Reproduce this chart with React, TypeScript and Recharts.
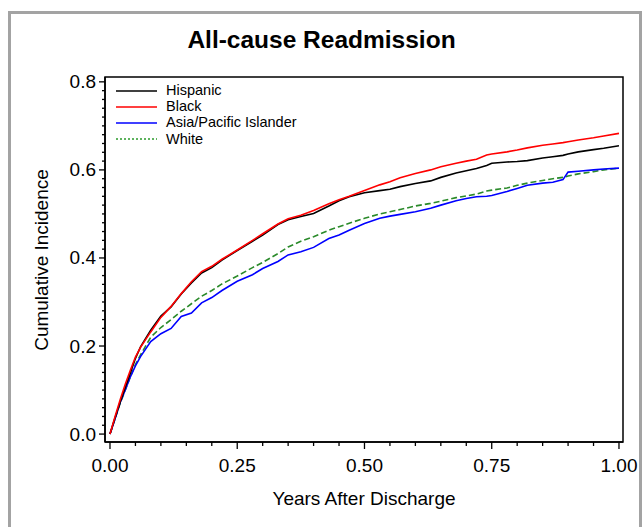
import React from 'react';
import { LineChart, Line, XAxis, YAxis, ReferenceArea } from 'recharts';

const times = [0, 0.01, 0.02, 0.03, 0.04, 0.05, 0.06, 0.08, 0.10, 0.12, 0.14, 0.16, 0.18, 0.20, 0.22, 0.25, 0.28, 0.30, 0.33, 0.35, 0.375, 0.40, 0.43, 0.45, 0.47, 0.50, 0.53, 0.55, 0.57, 0.60, 0.63, 0.65, 0.68, 0.70, 0.72, 0.74, 0.75, 0.78, 0.80, 0.82, 0.85, 0.87, 0.89, 0.90, 0.92, 0.95, 0.97, 1.00];

const hispanic = [0, 0.037, 0.072, 0.106, 0.138, 0.172, 0.198, 0.236, 0.268, 0.289, 0.318, 0.343, 0.366, 0.378, 0.395, 0.417, 0.438, 0.452, 0.476, 0.487, 0.494, 0.501, 0.518, 0.53, 0.539, 0.548, 0.553, 0.556, 0.562, 0.569, 0.575, 0.583, 0.593, 0.598, 0.603, 0.61, 0.615, 0.618, 0.619, 0.621, 0.627, 0.63, 0.633, 0.636, 0.641, 0.646, 0.649, 0.655];

const black = [0, 0.04, 0.078, 0.113, 0.145, 0.175, 0.197, 0.232, 0.265, 0.29, 0.319, 0.346, 0.369, 0.381, 0.397, 0.418, 0.44, 0.455, 0.477, 0.489, 0.497, 0.508, 0.523, 0.532, 0.54, 0.553, 0.566, 0.573, 0.582, 0.592, 0.6, 0.607, 0.615, 0.62, 0.624, 0.634, 0.636, 0.641, 0.645, 0.65, 0.656, 0.659, 0.662, 0.664, 0.668, 0.673, 0.677, 0.683];

const asian = [0, 0.035, 0.072, 0.1, 0.13, 0.155, 0.176, 0.21, 0.228, 0.24, 0.267, 0.275, 0.298, 0.31, 0.326, 0.347, 0.362, 0.376, 0.392, 0.407, 0.414, 0.424, 0.444, 0.452, 0.463, 0.478, 0.49, 0.495, 0.499, 0.505, 0.513, 0.52, 0.53, 0.535, 0.539, 0.54, 0.542, 0.551, 0.558, 0.565, 0.57, 0.572, 0.578, 0.595, 0.597, 0.6, 0.602, 0.604];

const white = [0, 0.035, 0.07, 0.1, 0.13, 0.158, 0.18, 0.22, 0.242, 0.26, 0.279, 0.296, 0.313, 0.326, 0.341, 0.359, 0.378, 0.39, 0.41, 0.425, 0.438, 0.448, 0.463, 0.471, 0.479, 0.49, 0.5, 0.505, 0.51, 0.518, 0.524, 0.529, 0.537, 0.541, 0.545, 0.552, 0.554, 0.559, 0.565, 0.57, 0.576, 0.58, 0.583, 0.586, 0.591, 0.596, 0.6, 0.604];

const seriesNames = ['Hispanic', 'Black', 'Asia/Pacific Islander', 'White'];

const xTicks = [0, 0.05, 0.1, 0.15, 0.2, 0.25, 0.3, 0.35, 0.4, 0.45, 0.5, 0.55, 0.6, 0.65, 0.7, 0.75, 0.8, 0.85, 0.9, 0.95, 1];
const xTickLabels = ['0.00', '0.25', '0.50', '0.75', '1.00'];
const yTicks = [0, 0.02, 0.04, 0.06, 0.08, 0.1, 0.12, 0.14, 0.16, 0.18, 0.2, 0.22, 0.24, 0.26, 0.28, 0.3, 0.32, 0.34, 0.36, 0.38, 0.4, 0.42, 0.44, 0.46, 0.48, 0.5, 0.52, 0.54, 0.56, 0.58, 0.6, 0.62, 0.64, 0.66, 0.68, 0.7, 0.72, 0.74, 0.76, 0.78, 0.8];
const yTickLabels = ['0.0', '0.2', '0.4', '0.6', '0.8'];

const title = 'All-cause Readmission';
const xTitle = 'Years After Discharge';
const yTitle = 'Cumulative Incidence';

const data = times.map((t, i) => ({ t, hispanic: hispanic[i], black: black[i], asian: asian[i], white: white[i] }));

const X_DOMAIN: [number, number] = [-0.0098, 1.0079];
const Y_DOMAIN: [number, number] = [-0.018, 0.811];
const FONT = '"Liberation Sans", Arial, Helvetica, sans-serif';

const XTick = (props: any) => {
  const { x, y, payload } = props;
  const v: number = payload.value;
  const label = v.toFixed(2);
  const major = xTickLabels.includes(label);
  return (
    <g>
      <line x1={x} x2={x} y1={y} y2={y + (major ? 7 : 4)} stroke="#000" strokeWidth={1.3} />
      {major && (
        <text x={x} y={y + 23} textAnchor="middle" dominantBaseline="central" fontSize={19} fontFamily={FONT} fill="#000">
          {label}
        </text>
      )}
    </g>
  );
};

const YTick = (props: any) => {
  const { x, y, payload } = props;
  const v: number = payload.value;
  const label = v.toFixed(1);
  const major = Math.abs(v * 5 - Math.round(v * 5)) < 1e-6;
  return (
    <g>
      <line x1={x} x2={x - (major ? 6 : 3)} y1={y} y2={y} stroke="#000" strokeWidth={1.3} />
      {major && yTickLabels.includes(label) && (
        <text x={x - 9} y={y} textAnchor="end" dominantBaseline="central" fontSize={19} fontFamily={FONT} fill="#000">
          {label}
        </text>
      )}
    </g>
  );
};

const legendItems = [
  { name: seriesNames[0], color: '#000000', dash: undefined as string | undefined },
  { name: seriesNames[1], color: '#ff0000', dash: undefined },
  { name: seriesNames[2], color: '#0000ff', dash: undefined },
  { name: seriesNames[3], color: '#2a9a2a', dash: '2 2' },
];

export default function App() {
  return (
    <div style={{ position: 'absolute', left: 0, top: 0, width: 643, height: 527, background: '#fff', overflow: 'hidden', fontFamily: FONT }}>
      <div style={{ position: 'absolute', left: 8, top: 11, width: 628, height: 600, borderLeft: '3px solid #a3a3a3', borderTop: '3px solid #a3a3a3', borderRight: '3px solid #a3a3a3' }} />
      <div style={{ position: 'absolute', left: 0, top: 26, width: 643, textAlign: 'center', fontSize: 24.5, lineHeight: '27px', fontWeight: 'bold', color: '#000' }}>
        {title}
      </div>
      <div style={{ position: 'absolute', left: 0, width: 728, top: 488, textAlign: 'center', fontSize: 19, lineHeight: '22px', color: '#000' }}>
        {xTitle}
      </div>
      <div style={{ position: 'absolute', left: 42, top: 260, width: 0, height: 0 }}>
        <div style={{ position: 'absolute', left: -150, top: -11, width: 300, textAlign: 'center', fontSize: 19, lineHeight: '22px', transform: 'rotate(-90deg)', color: '#000' }}>
          {yTitle}
        </div>
      </div>
      <div style={{ position: 'absolute', left: 0, top: 0 }}>
        <LineChart width={643} height={527} data={data} margin={{ top: 77, right: 20, bottom: 55, left: 45 }}>
          <XAxis
            dataKey="t"
            type="number"
            domain={X_DOMAIN}
            allowDataOverflow
            ticks={xTicks}
            interval={0}
            tickSize={0}
            tickMargin={0}
            height={30}
            tick={<XTick />}
            axisLine={{ stroke: '#000', strokeWidth: 1.5 }}
            tickLine={false}
          />
          <YAxis
            type="number"
            domain={Y_DOMAIN}
            allowDataOverflow
            ticks={yTicks}
            interval={0}
            tickSize={0}
            tickMargin={0}
            width={60}
            tick={<YTick />}
            axisLine={{ stroke: '#000', strokeWidth: 1.5 }}
            tickLine={false}
          />
          <ReferenceArea x1={X_DOMAIN[0]} x2={X_DOMAIN[1]} y1={Y_DOMAIN[0]} y2={Y_DOMAIN[1]} fill="none" fillOpacity={0} stroke="#000" strokeWidth={1.5} ifOverflow="visible" />
          <Line dataKey="white" stroke="#2a8a2a" strokeWidth={1.6} strokeDasharray="6 3" dot={false} isAnimationActive={false} />
          <Line dataKey="asian" stroke="#0000ff" strokeWidth={1.6} dot={false} isAnimationActive={false} />
          <Line dataKey="hispanic" stroke="#000000" strokeWidth={1.6} dot={false} isAnimationActive={false} />
          <Line dataKey="black" stroke="#ff0000" strokeWidth={1.6} dot={false} isAnimationActive={false} />
        </LineChart>
      </div>
      <div style={{ position: 'absolute', left: 116, top: 82 }}>
        {legendItems.map((it, i) => (
          <div key={it.name} style={{ position: 'absolute', left: 0, top: i * 16.2, height: 17, width: 300, display: 'flex', alignItems: 'center' }}>
            <svg width={41} height={4} style={{ display: 'block' }}>
              <line x1={0} x2={41} y1={2} y2={2} stroke={it.color} strokeWidth={1.5} strokeDasharray={it.dash} />
            </svg>
            <span style={{ marginLeft: 9, fontSize: 14.5, lineHeight: '17px', color: '#000', whiteSpace: 'nowrap' }}>{it.name}</span>
          </div>
        ))}
      </div>
    </div>
  );
}
